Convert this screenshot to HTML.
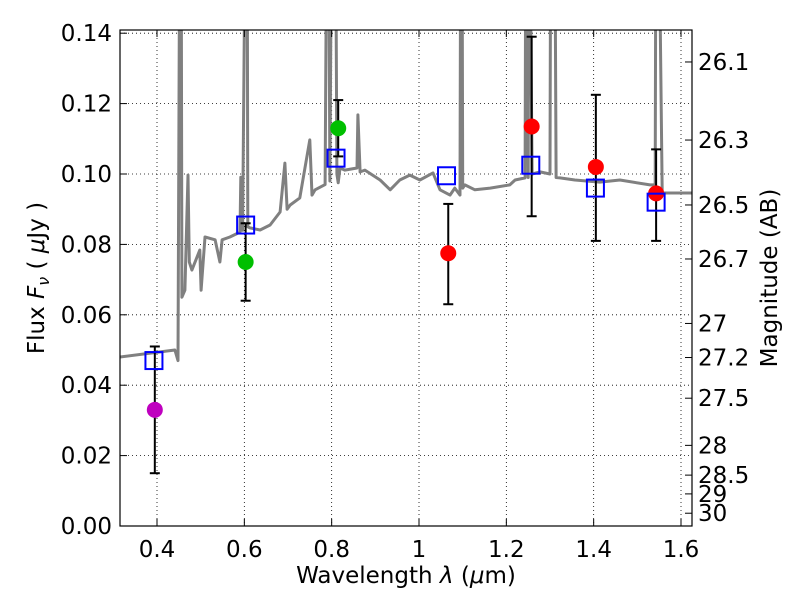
<!DOCTYPE html>
<html><head><meta charset="utf-8"><style>
body{margin:0;background:#fff;}
svg text{font-family:"DejaVu Sans","Liberation Sans",sans-serif;font-size:23px;fill:#000;}
</style></head><body>
<svg id="chart" width="800" height="600" xmlns="http://www.w3.org/2000/svg">
<defs><clipPath id="pc"><rect x="120" y="30" width="572" height="496"/></clipPath></defs>
<rect x="0" y="0" width="800" height="600" fill="#fff"/>
<g id="grid"></g>
<g id="spec" clip-path="url(#pc)"></g>
<g id="marks" clip-path="url(#pc)"></g>
<rect x="120" y="30" width="572" height="496" fill="none" stroke="#000" stroke-width="1.2"/>
<g id="axes"></g>
<text x="406" y="583" text-anchor="middle">Wavelength  <tspan font-style="italic">λ</tspan> (<tspan font-style="italic">μ</tspan>m)</text>
<text transform="translate(44,278) rotate(-90)" text-anchor="middle">Flux  <tspan font-style="italic">F</tspan><tspan font-style="italic" font-size="16" dy="5">ν</tspan><tspan dy="-5">  (  </tspan><tspan font-style="italic">μ</tspan>Jy )</text>
<text transform="translate(777,278) rotate(-90)" text-anchor="middle">Magnitude (AB)</text>
</svg>
<script>
const specLam=[0.315,0.441,0.448,0.453,0.455,0.457,0.464,0.471,0.474,0.48,0.498,0.501,0.51,0.533,0.544,0.549,0.567,0.59,0.592,0.596,0.604,0.606,0.608,0.613,0.636,0.659,0.682,0.693,0.698,0.705,0.727,0.75,0.755,0.762,0.785,0.79,0.792,0.796,0.801,0.808,0.812,0.815,0.819,0.83,0.858,0.86,0.865,0.876,0.911,0.934,0.956,0.979,1.002,1.032,1.048,1.071,1.082,1.094,1.096,1.098,1.1,1.105,1.128,1.163,1.208,1.22,1.243,1.245,1.247,1.25,1.252,1.259,1.277,1.3,1.302,1.307,1.31,1.314,1.323,1.357,1.414,1.46,1.529,1.541,1.543,1.547,1.557,1.625];
const specFlux=[0.048,0.050,0.047,0.2,0.2,0.065,0.067,0.0997,0.075,0.0727,0.0784,0.067,0.0821,0.0813,0.075,0.0813,0.0821,0.0835,0.0991,0.084,0.2,0.2,0.085,0.0847,0.0841,0.0855,0.0892,0.1031,0.090,0.0912,0.0932,0.1097,0.094,0.0955,0.097,0.2,0.2,0.098,0.2,0.2,0.1,0.0975,0.1017,0.1011,0.1017,0.1168,0.1006,0.1011,0.0983,0.0955,0.0983,0.0997,0.0983,0.1003,0.0955,0.094,0.096,0.094,0.2,0.2,0.096,0.0969,0.0955,0.096,0.0969,0.0983,0.0989,0.2,0.2,0.099,0.2,0.1,0.1006,0.1,0.2,0.2,0.2,0.099,0.0989,0.0983,0.0977,0.0983,0.0969,0.0969,0.2,0.2,0.0946,0.0946];
const photLam=[0.395,0.603,0.815,1.067,1.258,1.405,1.543];
const photFlux=[0.033,0.075,0.113,0.0775,0.1135,0.102,0.0945];
const photLo=[0.015,0.064,0.105,0.063,0.088,0.081,0.081];
const photHi=[0.051,0.086,0.121,0.0915,0.139,0.1225,0.107];
const photColor=['#bf00bf','#00bf00','#00bf00','#ff0000','#ff0000','#ff0000','#ff0000'];
const modelLam=[0.393,0.603,0.81,1.063,1.256,1.404,1.543];
const modelFlux=[0.047,0.0855,0.1045,0.0995,0.1025,0.096,0.092];
const xTicks=[0.4,0.6,0.8,1.0,1.2,1.4,1.6];
const xTickLabels=['0.4','0.6','0.8','1','1.2','1.4','1.6'];
const yTicks=[0,0.02,0.04,0.06,0.08,0.1,0.12,0.14];
const yTickLabels=['0.00','0.02','0.04','0.06','0.08','0.10','0.12','0.14'];
const magTicks=[26.1,26.3,26.5,26.7,27,27.2,27.5,28,28.5,29,30];
const magLabels=['26.1','26.3','26.5','26.7','27','27.2','27.5','28','28.5','29','30'];

const NS='http://www.w3.org/2000/svg';
function X(l){return 157+(l-0.4)*436.67;}
function Y(f){return 526-f*3520;}
function mk(p,t,a){const e=document.createElementNS(NS,t);for(const k in a)e.setAttribute(k,a[k]);p.appendChild(e);return e;}
const grid=document.getElementById('grid'),axes=document.getElementById('axes'),spec=document.getElementById('spec'),marks=document.getElementById('marks');
xTicks.forEach((t,i)=>{
  const x=X(t);
  let g=mk(grid,'line',{x1:x,x2:x,y1:30,y2:526,stroke:'#000','stroke-width':0.8,'stroke-dasharray':'1,3'});
  
  mk(axes,'line',{x1:x,x2:x,y1:526,y2:519,stroke:'#000'});
  mk(axes,'line',{x1:x,x2:x,y1:30,y2:37,stroke:'#000'});
  let tx=mk(axes,'text',{x:x,y:557,'text-anchor':'middle'});tx.textContent=xTickLabels[i];
  
});
yTicks.forEach((t,i)=>{
  const y=Y(t);
  if(t>0){let g=mk(grid,'line',{x1:120,x2:692,y1:y,y2:y,stroke:'#000','stroke-width':0.8,'stroke-dasharray':'1,3'});
  }
  mk(axes,'line',{x1:120,x2:127,y1:y,y2:y,stroke:'#000'});
  let tx=mk(axes,'text',{x:112,y:y+8,'text-anchor':'end'});tx.textContent=yTickLabels[i];
  
});
magTicks.forEach((m,i)=>{
  const y=Y(Math.pow(10,(23.9-m)/2.5));
  mk(axes,'line',{x1:692,x2:685,y1:y,y2:y,stroke:'#000'});
  let tx=mk(axes,'text',{x:698,y:y+8});tx.textContent=magLabels[i];
  
});
let d=specLam.map((l,i)=>(i?'L':'M')+X(l).toFixed(1)+','+Y(specFlux[i]).toFixed(1)).join(' ');
let sp=mk(spec,'path',{d:d,fill:'none',stroke:'#808080','stroke-width':3,'stroke-linejoin':'round'});

photLam.forEach((l,i)=>{
  const x=X(l);
  let eb=mk(marks,'g',{});
  
  mk(eb,'line',{x1:x,x2:x,y1:Y(photLo[i]),y2:Y(photHi[i]),stroke:'#000','stroke-width':2});
  mk(eb,'line',{x1:x-5,x2:x+5,y1:Y(photLo[i]),y2:Y(photLo[i]),stroke:'#000','stroke-width':2});
  mk(eb,'line',{x1:x-5,x2:x+5,y1:Y(photHi[i]),y2:Y(photHi[i]),stroke:'#000','stroke-width':2});
  let c=mk(marks,'circle',{cx:x,cy:Y(photFlux[i]),r:8,fill:photColor[i]});
  
});
modelLam.forEach((l,i)=>{
  let r=mk(marks,'rect',{x:X(l)-8.5,y:Y(modelFlux[i])-8.5,width:17,height:17,fill:'none',stroke:'#0000ff','stroke-width':2});
  
});
</script>
</body></html>
